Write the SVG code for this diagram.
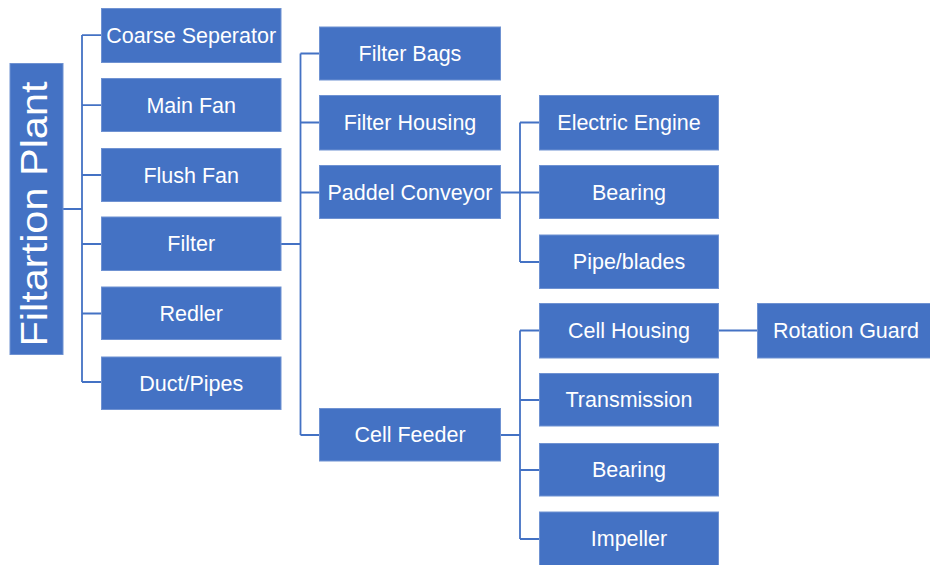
<svg xmlns="http://www.w3.org/2000/svg" width="930" height="565" viewBox="0 0 930 565">
<style>
.b{fill:#4472C4;stroke:#6F92D2;stroke-width:1}
.t{fill:#ffffff;font-family:"Liberation Sans",Arial,sans-serif;font-size:21.5px;text-anchor:middle}
.c{fill:none;stroke:#4472C4;stroke-width:1.8}
</style>
<rect width="930" height="565" fill="#ffffff"/>
<g id="connectors">
<path class="c" d="M63 209H82M82 35V382M82 35.2H101.5M82 105.2H101.5M82 175H101.5M82 244H101.5M82 313.5H101.5M82 382H101.5"/>
<path class="c" d="M281 244H300.5M300.5 53.5V435M300.5 53.5H319.5M300.5 122.5H319.5M300.5 192.5H319.5M300.5 435H319.5"/>
<path class="c" d="M500.5 192.5H520M520 122.5V262M520 122.5H539.5M520 192.5H539.5M520 262H539.5"/>
<path class="c" d="M500.5 435H520M520 330.5V539M520 330.5H539.5M520 400H539.5M520 470H539.5M520 539H539.5"/>
<path class="c" d="M719 330.5H757.5"/>
</g>
<g id="n-plant"><rect class="b" x="10" y="63.5" width="53" height="291"/><text transform="translate(46.5 214) rotate(-90)" style="fill:#fff;font-family:'Liberation Sans',Arial,sans-serif;font-size:37px;text-anchor:middle" textLength="265" lengthAdjust="spacingAndGlyphs">Filtartion Plant</text></g>
<g id="n-coarse"><rect class="b" x="101.5" y="8.5" width="179.5" height="54"/><text class="t" x="191.2" y="43">Coarse Seperator</text></g>
<g id="n-mainfan"><rect class="b" x="101.5" y="78.5" width="179.5" height="53"/><text class="t" x="191.2" y="112.5">Main Fan</text></g>
<g id="n-flushfan"><rect class="b" x="101.5" y="148.5" width="179.5" height="53"/><text class="t" x="191.2" y="182.5">Flush Fan</text></g>
<g id="n-filter"><rect class="b" x="101.5" y="217" width="179.5" height="53.5"/><text class="t" x="191.2" y="251.2">Filter</text></g>
<g id="n-redler"><rect class="b" x="101.5" y="287" width="179.5" height="52.5"/><text class="t" x="191.2" y="320.8">Redler</text></g>
<g id="n-duct"><rect class="b" x="101.5" y="357" width="179.5" height="52.5"/><text class="t" x="191.2" y="390.5">Duct/Pipes</text></g>
<g id="n-filterbags"><rect class="b" x="319.5" y="27" width="181" height="53"/><text class="t" x="410" y="60.8">Filter Bags</text></g>
<g id="n-filterhousing"><rect class="b" x="319.5" y="95.5" width="181" height="54.5"/><text class="t" x="410" y="130.2">Filter Housing</text></g>
<g id="n-paddel"><rect class="b" x="319.5" y="165.5" width="181" height="53"/><text class="t" x="410" y="199.5">Paddel Conveyor</text></g>
<g id="n-cellfeeder"><rect class="b" x="319.5" y="408.5" width="181" height="52.5"/><text class="t" x="410" y="442.2">Cell Feeder</text></g>
<g id="n-electric"><rect class="b" x="539.5" y="95.5" width="179" height="54.5"/><text class="t" x="629" y="130.2">Electric Engine</text></g>
<g id="n-bearing1"><rect class="b" x="539.5" y="165.5" width="179" height="53"/><text class="t" x="629" y="199.5">Bearing</text></g>
<g id="n-pipe"><rect class="b" x="539.5" y="235" width="179" height="53.5"/><text class="t" x="629" y="268.8">Pipe/blades</text></g>
<g id="n-cellhousing"><rect class="b" x="539.5" y="303.5" width="179" height="54.5"/><text class="t" x="629" y="338.3">Cell Housing</text></g>
<g id="n-transmission"><rect class="b" x="539.5" y="373.5" width="179" height="52.5"/><text class="t" x="629" y="407.2">Transmission</text></g>
<g id="n-bearing2"><rect class="b" x="539.5" y="443.5" width="179" height="52.5"/><text class="t" x="629" y="477.2">Bearing</text></g>
<g id="n-impeller"><rect class="b" x="539.5" y="512" width="179" height="60"/><text class="t" x="629" y="546">Impeller</text></g>
<g id="n-rotation"><rect class="b" x="757.5" y="303.5" width="180" height="54.5"/><text class="t" x="846" y="338.3">Rotation Guard</text></g>
</svg>
